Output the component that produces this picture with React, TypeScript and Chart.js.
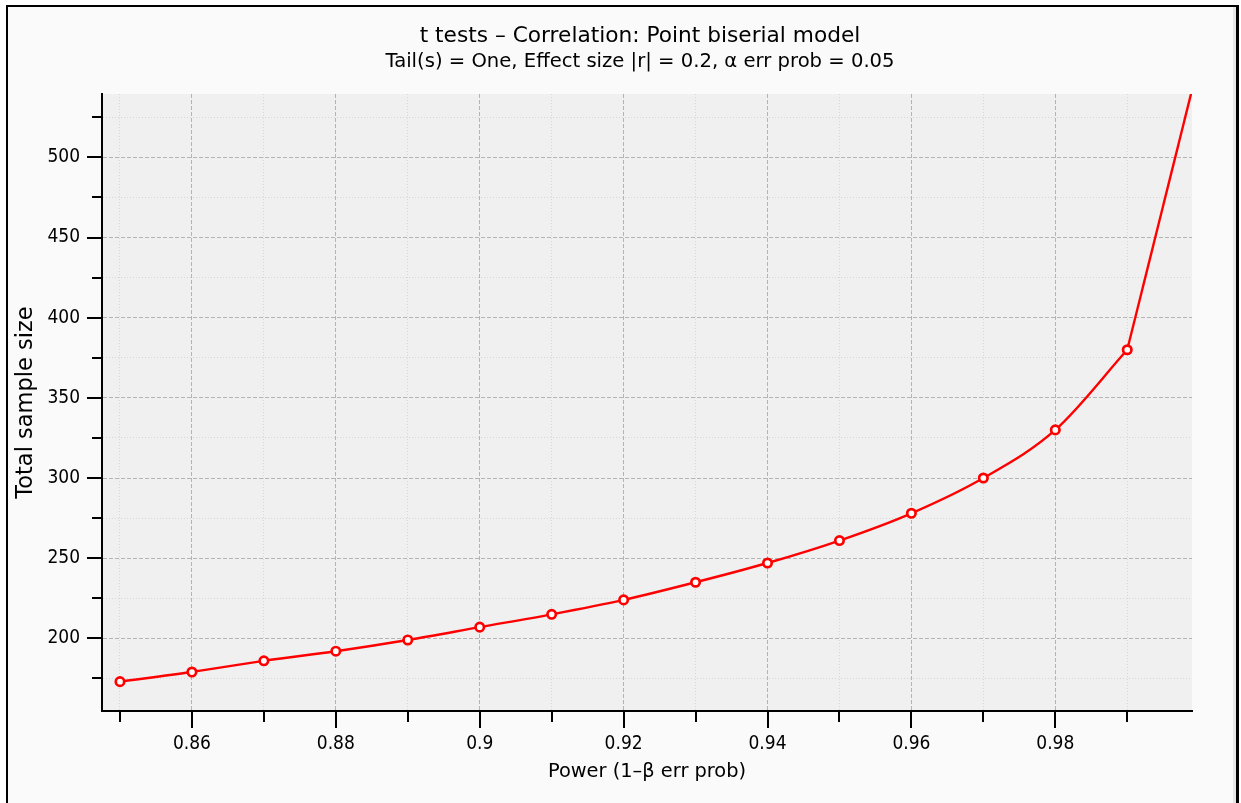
import React, { useEffect, useRef } from "react";
import { Chart, registerables } from "chart.js";

Chart.register(...registerables);

// ---- data ----
const powerValues = [0.85, 0.86, 0.87, 0.88, 0.89, 0.9, 0.91, 0.92, 0.93, 0.94, 0.95, 0.96, 0.97, 0.98, 0.99];
const sampleSizes = [173, 179, 186, 192, 199, 207, 215, 224, 235, 247, 261, 278, 300, 330, 380];
const tailPower = [0.99, 0.999];
const tailSizes = [380, 542];

const xMin = 0.8475;
const xMax = 0.999;
const yMin = 154.7;
const yMax = 539.5;
const xTickStep = 0.01;
const yTickStep = 25;

const titleText = "t tests – Correlation: Point biserial model";
const subtitleText = "Tail(s) = One, Effect size |r| = 0.2, α err prob = 0.05";
const xAxisTitle = "Power (1–β err prob)";
const yAxisTitle = "Total sample size";

const FONT_COND = "'DejaVu Sans Condensed', 'Liberation Sans Narrow', 'DejaVu Sans', sans-serif";
const FONT = "'DejaVu Sans', Verdana, sans-serif";
const RED = "#ff0000";

const isMajorX = (v: number) => Math.round(v * 100) % 2 === 0;
const isMajorY = (v: number) => Math.round(v) % 50 === 0;

const plotBg = {
  id: "plotBg",
  beforeDraw(chart: any) {
    const { ctx, chartArea } = chart;
    ctx.save();
    ctx.fillStyle = "#f0f0f0";
    ctx.fillRect(chartArea.left, chartArea.top, chartArea.right - chartArea.left, chartArea.bottom - chartArea.top);
    ctx.restore();
  },
};

const tickMarks = {
  id: "tickMarks",
  afterDraw(chart: any) {
    const { ctx, chartArea } = chart;
    const xs = chart.scales.x;
    const ys = chart.scales.y;
    ctx.save();
    ctx.strokeStyle = "#000";
    ctx.lineWidth = 2;
    ys.ticks.forEach((t: any) => {
      const py = Math.round(ys.getPixelForValue(t.value));
      const len = isMajorY(t.value) ? 14 : 9;
      ctx.beginPath();
      ctx.moveTo(chartArea.left - 1 - len, py);
      ctx.lineTo(chartArea.left, py);
      ctx.stroke();
    });
    xs.ticks.forEach((t: any) => {
      const px = Math.round(xs.getPixelForValue(t.value));
      const len = isMajorX(t.value) ? 17 : 11;
      ctx.beginPath();
      ctx.moveTo(px, chartArea.bottom);
      ctx.lineTo(px, chartArea.bottom + len);
      ctx.stroke();
    });
    ctx.restore();
  },
};

export default function App() {
  const ref = useRef<HTMLCanvasElement>(null);

  useEffect(() => {
    if (!ref.current) return;
    const chart = new Chart(ref.current, {
      type: "line",
      data: {
        datasets: [
          {
            data: powerValues.map((x, i) => ({ x, y: sampleSizes[i] })),
            borderColor: RED,
            borderWidth: 2.4,
            pointRadius: 4.2,
            pointBorderWidth: 2.7,
            pointBackgroundColor: "#ffffff",
            pointBorderColor: RED,
            cubicInterpolationMode: "monotone",
            fill: false,
          },
          {
            data: tailPower.map((x, i) => ({ x, y: tailSizes[i] })),
            borderColor: RED,
            borderWidth: 2.4,
            pointRadius: 0,
            tension: 0,
            fill: false,
          },
        ],
      },
      options: {
        animation: false,
        responsive: false,
        devicePixelRatio: 1,
        layout: { padding: { left: 39, right: 0, top: 0, bottom: 0 } },
        plugins: {
          legend: { display: false },
          tooltip: { enabled: false },
          title: {
            display: true,
            text: titleText,
            color: "#000",
            font: { family: FONT, size: 21.7, weight: "normal", lineHeight: 1 },
            padding: { top: 25.15, bottom: 0 },
          },
          subtitle: {
            display: true,
            text: subtitleText,
            color: "#000",
            font: { family: FONT, size: 19.6, weight: "normal", lineHeight: 1 },
            padding: { top: 5.35, bottom: 22.2 },
          },
        },
        scales: {
          x: {
            type: "linear",
            min: xMin,
            max: xMax,
            afterFit: (s: any) => {
              s.height = 92;
            },
            ticks: {
              stepSize: xTickStep,
              includeBounds: false,
              autoSkip: false,
              maxRotation: 0,
              padding: 22,
              color: "#000",
              font: { family: FONT_COND, size: 19 },
              callback: (v: any) => (isMajorX(Number(v)) ? String(Math.round(Number(v) * 100) / 100) : ""),
            },
            grid: {
              drawTicks: false,
              lineWidth: 1,
              color: (c: any) => (c.tick ? (isMajorX(c.tick.value) ? "#b4b4b4" : "#d6d6d6") : "#000"),
            },
            border: {
              display: true,
              color: "#000",
              width: 2,
              dash: (c: any) => (c.tick ? (isMajorX(c.tick.value) ? [4, 2] : [1, 2]) : []),
            },
            title: {
              display: true,
              text: xAxisTitle,
              color: "#000",
              font: { family: FONT, size: 19.4 },
              padding: { top: 0, bottom: 19.4 },
            },
          },
          y: {
            type: "linear",
            min: yMin,
            max: yMax,
            afterFit: (s: any) => {
              s.width = 63;
            },
            ticks: {
              stepSize: yTickStep,
              includeBounds: false,
              autoSkip: false,
              padding: 22,
              color: "#000",
              font: { family: FONT_COND, size: 19 },
              callback: (v: any) => (isMajorY(Number(v)) ? String(Math.round(Number(v))) : ""),
            },
            grid: {
              drawTicks: false,
              lineWidth: 1,
              color: (c: any) => (c.tick ? (isMajorY(c.tick.value) ? "#b4b4b4" : "#d6d6d6") : "#000"),
            },
            border: {
              display: true,
              color: "#000",
              width: 2,
              dash: (c: any) => (c.tick ? (isMajorY(c.tick.value) ? [4, 2] : [1, 2]) : []),
            },
            title: {
              display: true,
              text: yAxisTitle,
              color: "#000",
              font: { family: FONT, size: 22.5 },
              padding: { top: -26, bottom: 0 },
            },
          },
          yRightSpacer: {
            type: "linear",
            position: "right",
            min: 0,
            max: 1,
            afterFit: (s: any) => {
              s.width = 49;
            },
            ticks: { display: false },
            grid: { display: false, drawOnChartArea: false, drawTicks: false },
            border: { display: false },
            title: { display: false },
          },
        },
      },
      plugins: [plotBg, tickMarks],
    } as any);
    return () => chart.destroy();
  }, []);

  return (
    <div style={{ position: "fixed", left: 0, top: 0, width: 1241, height: 803, background: "#ffffff", overflow: "hidden" }}>
      <div
        style={{
          position: "absolute",
          left: 6,
          top: 5,
          width: 1228,
          height: 900,
          background: "#fafafa",
          borderLeft: "2px solid #000",
          borderTop: "2px solid #000",
          borderRight: "3px solid #000",
          boxShadow: "inset -3px 0 0 #e6e6e6",
        }}
      />
      <canvas ref={ref} width={1241} height={803} style={{ position: "absolute", left: 0, top: 0 }} />
    </div>
  );
}
